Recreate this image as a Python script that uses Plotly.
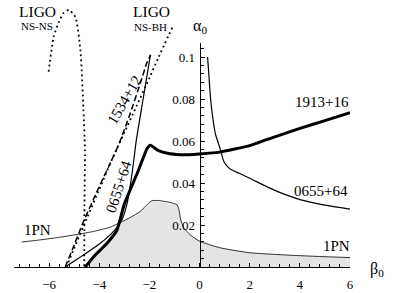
import plotly.graph_objects as go

# ---------------- data ----------------
beta_1913 = [-4.56, -4.16, -3.69, -3.29, -3.0, -2.49, -2.09, -1.96, -1.68, -1.28, -0.76, -0.4, 0.0, 0.8, 2.0, 3.0, 4.0, 5.0, 6.0]
alpha_1913 = [0.0, 0.0057, 0.0113, 0.0176, 0.030, 0.0445, 0.0565, 0.058, 0.0557, 0.0542, 0.0535, 0.0535, 0.0538, 0.0547, 0.0578, 0.062, 0.066, 0.0697, 0.0735]

beta_1pn = [-7.09, -6.36, -5.5, -4.89, -4.2, -3.56, -3.16, -2.76, -2.36, -1.89, -0.89, -0.76, -0.63, -0.36, 0.0, 0.84, 2.0, 3.0, 4.0, 5.0, 6.0]
alpha_1pn = [0.0119, 0.0129, 0.0143, 0.0155, 0.017, 0.019, 0.0212, 0.0236, 0.0265, 0.0316, 0.0295, 0.0229, 0.0186, 0.0152, 0.0123, 0.0091, 0.0068, 0.006, 0.0054, 0.0049, 0.0045]

region_beta = [-4.56, -4.16, -3.69, -3.16, -2.76, -2.36, -1.89, -0.89, -0.76, -0.63, -0.36, 0.0, 0.84, 2.0, 3.0, 4.0, 5.0, 6.0, 6.0]
region_alpha = [0.0, 0.0057, 0.0113, 0.0212, 0.0236, 0.0265, 0.0316, 0.0295, 0.0229, 0.0186, 0.0152, 0.0123, 0.0091, 0.0068, 0.006, 0.0054, 0.0049, 0.0045, 0.0]

beta_0655_left = [-5.36, -4.63, -3.96, -3.43, -3.09, -2.89, -2.69, -2.52, -2.25, -1.96]
alpha_0655_left = [0.0, 0.0057, 0.0113, 0.017, 0.0226, 0.0303, 0.0446, 0.0605, 0.08, 0.101]

beta_0655_right = [0.32, 0.38, 0.44, 0.54, 0.64, 0.75, 0.84, 0.96, 1.1, 1.24, 1.6, 2.04, 3.0, 4.04, 5.0, 6.0]
alpha_0655_right = [0.1, 0.09, 0.08, 0.07, 0.063, 0.059, 0.0555, 0.0505, 0.048, 0.0465, 0.0445, 0.042, 0.0365, 0.032, 0.0295, 0.0276]

beta_1534 = [-5.36, -5.05, -4.65, -4.05, -3.5, -3.2, -2.76, -2.36, -2.09, -1.95]
alpha_1534 = [0.0, 0.009, 0.021, 0.037, 0.051, 0.059, 0.0733, 0.0876, 0.0976, 0.101]

beta_nsbh = [-5.3, -5.0, -4.5, -4.0, -3.5, -3.0, -2.5, -2.0, -1.63, -1.09]
alpha_nsbh = [0.0, 0.009, 0.023, 0.037, 0.051, 0.064, 0.077, 0.09, 0.1, 0.114]

beta_nsns = [-6.02, -5.82, -5.6, -5.42, -5.21, -4.95, -4.75, -4.63, -4.57, -4.59, -4.6]
alpha_nsns = [0.093, 0.1095, 0.117, 0.121, 0.1224, 0.119, 0.103, 0.0748, 0.0557, 0.03, 0.0]

x_tick_vals = [-6, -4, -2, 0, 2, 4, 6]
x_tick_text = ["\u22126", "\u22124", "\u22122", "0", "2", "4", "6"]
y_tick_vals = [0.02, 0.04, 0.06, 0.08, 0.1]
y_tick_text = ["0.02", "0.04", "0.06", "0.08", "0.1"]

# ---------------- layout geometry ----------------
W, H = 404, 293
ML, MR, MT, MB = 14, 54, 0, 26
X_RANGE = [-7.4, 6.0]
PX_PER_ALPHA = 2100.0
plot_h = H - MT - MB
Y2_TOP = plot_h / PX_PER_ALPHA          # full plotting height in alpha units
Y_AXIS_TOP = 0.10667                    # where the drawn alpha axis ends
y_dom_top = Y_AXIS_TOP / Y2_TOP

FONT = "Liberation Serif"
BLACK = "#000000"

fig = go.Figure()

# allowed (grey) region, on the visible y axis
fig.add_trace(go.Scatter(x=region_beta, y=region_alpha, mode="lines", fill="toself",
                         fillcolor="#e4e4e4", line=dict(width=0), hoverinfo="skip",
                         xaxis="x", yaxis="y"))

def curve(x, y, width, dash="solid", shape="spline", smoothing=0.6):
    fig.add_trace(go.Scatter(x=x, y=y, mode="lines",
                             line=dict(color=BLACK, width=width, dash=dash, shape=shape, smoothing=smoothing),
                             hoverinfo="skip", xaxis="x", yaxis="y2"))

curve(beta_1pn, alpha_1pn, 0.8)
curve(beta_nsns, alpha_nsns, 1.8, dash="1.8px,3.2px")
curve(beta_nsbh, alpha_nsbh, 1.8, dash="1.8px,3.2px")
curve(beta_1534, alpha_1534, 1.5, dash="6px,3px")
curve(beta_0655_left, alpha_0655_left, 1.2)
curve(beta_0655_right, alpha_0655_right, 1.2)
curve(beta_1913, alpha_1913, 3.0, smoothing=0.4)

def label(text, x, y, size=15, angle=0):
    fig.add_annotation(text=text, x=x, y=y, xref="x", yref="y2", showarrow=False,
                       xanchor="center", yanchor="middle", textangle=angle,
                       font=dict(family=FONT, size=size, color=BLACK))

label("LIGO", -6.48, 0.1219, 15.5)
label("NS-NS", -6.48, 0.1148, 11)
label("LIGO", -1.91, 0.1219, 15.5)
label("NS-BH", -1.95, 0.1143, 11)
label("\u03b1<sub>0</sub>", 0.0, 0.1143, 16)
label("1913+16", 4.87, 0.0786, 15)
label("0655+64", 4.83, 0.0362, 15)
label("1PN", 5.46, 0.0100, 15)
label("1PN", -6.46, 0.0176, 15)
label("0655+64", -3.23, 0.0381, 15, angle=-72)
label("1534+12", -2.99, 0.0795, 15, angle=-60)
# beta_0 axis title just right of the axis end (paper coordinates)
fig.add_annotation(text="\u03b2<sub>0</sub>", x=(377 - ML) / (W - ML - MR), y=(H - 269 - MB) / plot_h,
                   xref="paper", yref="paper", showarrow=False, xanchor="center", yanchor="middle",
                   font=dict(family=FONT, size=16, color=BLACK))

fig.update_layout(
    width=W, height=H,
    margin=dict(l=ML, r=MR, t=MT, b=MB, pad=0, autoexpand=False),
    paper_bgcolor="white", plot_bgcolor="rgba(0,0,0,0)",
    showlegend=False,
    font=dict(family=FONT, size=13, color=BLACK),
    xaxis=dict(domain=[0, 1], range=X_RANGE, anchor="y", automargin=False,
               showgrid=False, zeroline=False, showline=True, linecolor=BLACK, linewidth=1,
               ticks="inside", ticklen=4, tickcolor=BLACK, tickwidth=1,
               tickvals=x_tick_vals, ticktext=x_tick_text, ticklabelstandoff=5,
               tickfont=dict(family=FONT, size=13, color=BLACK),
               minor=dict(dtick=0.4, tick0=0, ticks="inside", ticklen=3, tickcolor=BLACK, showgrid=False)),
    yaxis=dict(domain=[0, y_dom_top], range=[0, Y_AXIS_TOP], anchor="free", automargin=False,
               position=(0 - X_RANGE[0]) / (X_RANGE[1] - X_RANGE[0]), side="left",
               showgrid=False, zeroline=False, showline=True, linecolor=BLACK, linewidth=1,
               ticks="inside", ticklen=4, tickcolor=BLACK, tickwidth=1,
               tickvals=y_tick_vals, ticktext=y_tick_text, ticklabelstandoff=2,
               tickfont=dict(family=FONT, size=13, color=BLACK),
               minor=dict(dtick=0.004, tick0=0, ticks="inside", ticklen=3, tickcolor=BLACK, showgrid=False)),
    yaxis2=dict(domain=[0, 1], range=[0, Y2_TOP], anchor="x", visible=False,
                showgrid=False, zeroline=False),
)

fig.write_html("out.html", config={"displayModeBar": False, "staticPlot": True},
               post_script="document.body.style.margin='0';document.body.style.overflow='hidden';")
